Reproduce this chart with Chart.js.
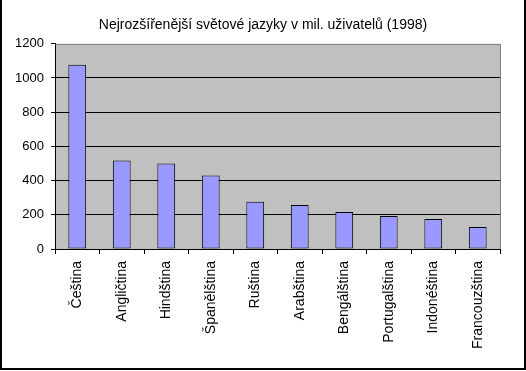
<!DOCTYPE html>
<html>
<head>
<meta charset="utf-8">
<script src="https://cdn.jsdelivr.net/npm/chart.js@4"></script>
<style>
  body { margin: 0; background: #fff; }
  #frame {
    position: absolute; left: 0; top: 0;
    width: 522px; height: 368px;
    border-left: 2px solid #000; border-right: 2px solid #000; border-bottom: 2px solid #000;
  }
  canvas { display: block; }
</style>
</head>
<body>
<div id="frame"><canvas id="chart" width="522" height="368"></canvas></div>
<script>
let languages = ["Čeština", "Angličtina", "Hindština", "Španělština", "Ruština",
                 "Arabština", "Bengálština", "Portugalština", "Indonéština", "Francouzština"];
let speakers = [1078, 517, 500, 430, 277, 258, 217, 193, 176, 129];
let yMax = 1200;
let yStep = 200;

let plotBack = {
  id: 'plotBack',
  beforeDraw(chart) {
    let a = chart.chartArea, c = chart.ctx;
    c.save();
    c.fillStyle = '#C0C0C0';
    c.fillRect(a.left, a.top, a.right - a.left, a.bottom - a.top);
    c.restore();
  },
  afterDraw(chart) {
    let a = chart.chartArea, c = chart.ctx;
    c.save();
    c.strokeStyle = '#808080';
    c.lineWidth = 1;
    c.beginPath();
    c.moveTo(Math.round(a.left) + 0.5, Math.round(a.top) + 0.5);
    c.lineTo(Math.round(a.right) + 0.5, Math.round(a.top) + 0.5);
    c.lineTo(Math.round(a.right) + 0.5, Math.round(a.bottom));
    c.stroke();
    c.restore();
  }
};

let font = 'Liberation Sans, Arial, sans-serif';

new Chart(document.getElementById('chart'), {
  type: 'bar',
  data: {
    labels: languages,
    datasets: [{
      data: speakers,
      backgroundColor: '#9999FF',
      borderColor: '#000',
      borderWidth: 1,
      borderSkipped: false,
      barPercentage: 0.4,
      categoryPercentage: 1
    }]
  },
  options: {
    responsive: false,
    animation: false,
    devicePixelRatio: 1,
    layout: { padding: 0 },
    plugins: {
      legend: { display: false },
      tooltip: { enabled: false },
      title: {
        display: true,
        text: 'Nejrozšířenější světové jazyky v mil. uživatelů (1998)',
        color: '#000',
        font: { family: font, size: 14, weight: 'normal' },
        padding: { top: 17, bottom: 10 }
      }
    },
    scales: {
      x: {
        afterFit(scale) { scale.height = 119; },
        grid: {
          offset: true,
          drawOnChartArea: false,
          drawTicks: true,
          tickLength: 5,
          tickColor: '#000'
        },
        border: { color: '#000', width: 1 },
        ticks: {
          color: '#000',
          font: { family: font, size: 14 },
          minRotation: 90,
          maxRotation: 90,
          padding: 7,
          autoSkip: false
        }
      },
      y: {
        min: 0,
        max: yMax,
        afterFit(scale) { scale.width = 53; },
        grid: {
          color: ctx => (ctx.tick && (ctx.tick.value === yMax || ctx.tick.value === 0)) ? 'rgba(0,0,0,0)' : '#000',
          tickColor: '#000',
          tickLength: 4
        },
        border: { color: '#000', width: 1 },
        ticks: {
          stepSize: yStep,
          color: '#000',
          font: { family: font, size: 13 },
          padding: 7,
          callback: v => String(v)
        }
      },
      // empty right-hand axis, only to leave the white margin right of the plot
      spacer: {
        position: 'right',
        min: 0,
        max: yMax,
        afterFit(scale) { scale.width = 24; },
        grid: { display: false },
        border: { display: false },
        ticks: { display: false }
      }
    }
  },
  plugins: [plotBack]
});
</script>
</body>
</html>
